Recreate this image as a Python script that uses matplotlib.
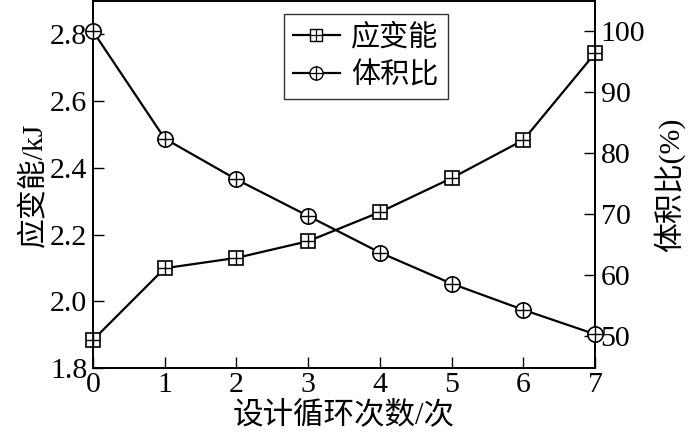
import matplotlib
matplotlib.use("Agg")
import matplotlib.pyplot as plt
from matplotlib.lines import Line2D

plt.rcParams['font.family'] = ['Liberation Serif', 'Noto Sans CJK SC']
plt.rcParams['mathtext.fontset'] = 'stix'

cycles = [0, 1, 2, 3, 4, 5, 6, 7]
strain_energy = [1.884, 2.099, 2.13, 2.18, 2.267, 2.369, 2.483, 2.743]
volume_ratio = [100.0, 82.4, 75.7, 69.7, 63.7, 58.6, 54.3, 50.3]

xticks = [0, 1, 2, 3, 4, 5, 6, 7]
left_ticks = [1.8, 2.0, 2.2, 2.4, 2.6, 2.8]
right_ticks = [50, 60, 70, 80, 90, 100]

fig = plt.figure(figsize=(6.89, 4.45), dpi=100)
ax = fig.add_axes([0.135, 0.173, 0.7286, 0.825])
ax2 = ax.twinx()

lw = 1.6
ms_sq = 9.5
ms_c = 11
# strain energy: square with plus
ax.plot(cycles, strain_energy, color='black', lw=lw, marker='s', ms=ms_sq,
        mfc='white', mec='black', mew=1.2, clip_on=False, zorder=3)
ax.plot(cycles, strain_energy, ls='none', marker='+', ms=ms_sq, mec='black',
        mew=1.0, clip_on=False, zorder=4)
# volume ratio: circle with plus
ax2.plot(cycles, volume_ratio, color='black', lw=lw, marker='o', ms=ms_c,
         mfc='white', mec='black', mew=1.2, clip_on=False, zorder=3)
ax2.plot(cycles, volume_ratio, ls='none', marker='+', ms=ms_c, mec='black',
         mew=1.0, clip_on=False, zorder=4)

ax.set_xlim(0, 7)
ax.set_ylim(1.8, 2.9)
ax2.set_ylim(44.75, 105)
ax.set_xticks(xticks)
ax.set_yticks(left_ticks)
ax.set_yticklabels([f"{v:.1f}" for v in left_ticks])
ax2.set_yticks(right_ticks)

ax.tick_params(axis='both', direction='in', length=8, width=1, labelsize=21.5, pad=4)
ax.tick_params(axis='x', pad=3)
ax2.tick_params(axis='y', direction='in', length=8, width=1, labelsize=21.5, pad=4)

for a in (ax, ax2):
    for s in a.spines.values():
        s.set_linewidth(1.2)

ax.set_xlabel('设计循环次数/次', fontsize=22, labelpad=2)
ax.set_ylabel('应变能/kJ', fontsize=21.5, labelpad=2)
ax2.set_ylabel('体积比(%)', fontsize=21.5, labelpad=6)

h1 = (Line2D([], [], color='black', lw=lw, marker='s', ms=8.5, mfc='white', mec='black', mew=1.0),
      Line2D([], [], ls='none', marker='+', ms=8.5, mec='black', mew=0.9))
h2 = (Line2D([], [], color='black', lw=lw, marker='o', ms=9.5, mfc='white', mec='black', mew=1.0),
      Line2D([], [], ls='none', marker='+', ms=9.5, mec='black', mew=0.9))
leg = ax2.legend([h1, h2], ['应变能', '体积比'], loc='upper left',
                 bbox_to_anchor=(0.380, 0.9646), fontsize=21, frameon=True,
                 fancybox=False, edgecolor='black', handlelength=1.6,
                 handletextpad=0.38, borderpad=0.32, labelspacing=0.38,
                 borderaxespad=0)
leg.get_frame().set_linewidth(1.0)

fig.savefig('out.png', dpi=100)
